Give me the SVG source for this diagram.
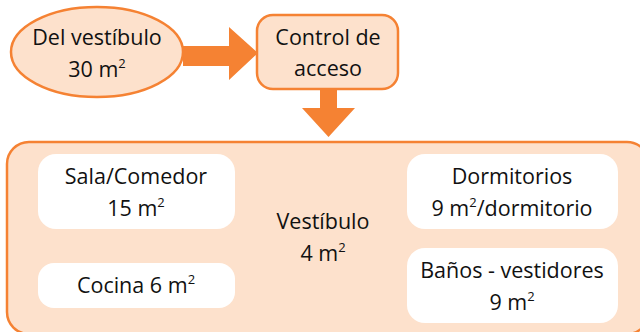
<svg xmlns="http://www.w3.org/2000/svg" width="640" height="332" viewBox="0 0 640 332">
<style>
.t{font-family:"Open Sans","Noto Sans",sans-serif;font-size:21.5px;fill:#111111;text-anchor:middle}
.s{font-size:13px}
.peach{fill:#FDE1CC;stroke:#F58233;stroke-width:2.5}
.white{fill:#ffffff}
.arrow{fill:#F58233}
</style>
<rect width="640" height="332" fill="#ffffff"/>
<g id="connectors">
<polygon class="arrow" points="183,46 229,46 229,27 258,53 229,80 229,66 183,66"/>
<polygon class="arrow" points="320,89 337,89 337,108 355,108 328.5,137 302,108 320,108"/>
</g>
<g id="del-vestibulo">
<ellipse class="peach" cx="97" cy="52" rx="86" ry="45"/>
<text class="t" x="97" y="45">Del vestíbulo</text>
<text class="t" x="97" y="77">30 m<tspan class="s" dy="-9">2</tspan></text>
</g>
<g id="control-acceso">
<rect class="peach" x="257" y="15" width="141" height="74" rx="16"/>
<text class="t" x="328" y="45">Control de</text>
<text class="t" x="328" y="76">acceso</text>
</g>
<g id="vestibulo">
<rect class="peach" x="7" y="142" width="642" height="192" rx="22"/>
<text class="t" x="323" y="229">Vestíbulo</text>
<text class="t" x="323" y="261">4 m<tspan class="s" dy="-9">2</tspan></text>
</g>
<g id="sala-comedor">
<rect class="white" x="38" y="154" width="197" height="75" rx="18"/>
<text class="t" x="136" y="184">Sala/Comedor</text>
<text class="t" x="136" y="216">15 m<tspan class="s" dy="-9">2</tspan></text>
</g>
<g id="cocina">
<rect class="white" x="38" y="263" width="197" height="45" rx="16"/>
<text class="t" x="136" y="293">Cocina 6 m<tspan class="s" dy="-9">2</tspan></text>
</g>
<g id="dormitorios">
<rect class="white" x="407" y="154" width="211" height="75" rx="18"/>
<text class="t" x="512" y="184">Dormitorios</text>
<text class="t" x="512" y="216">9 m<tspan class="s" dy="-9">2</tspan><tspan dy="9">/dormitorio</tspan></text>
</g>
<g id="banos">
<rect class="white" x="407" y="248" width="211" height="75" rx="18"/>
<text class="t" x="512" y="278">Baños - vestidores</text>
<text class="t" x="512" y="310">9 m<tspan class="s" dy="-9">2</tspan></text>
</g>
</svg>
